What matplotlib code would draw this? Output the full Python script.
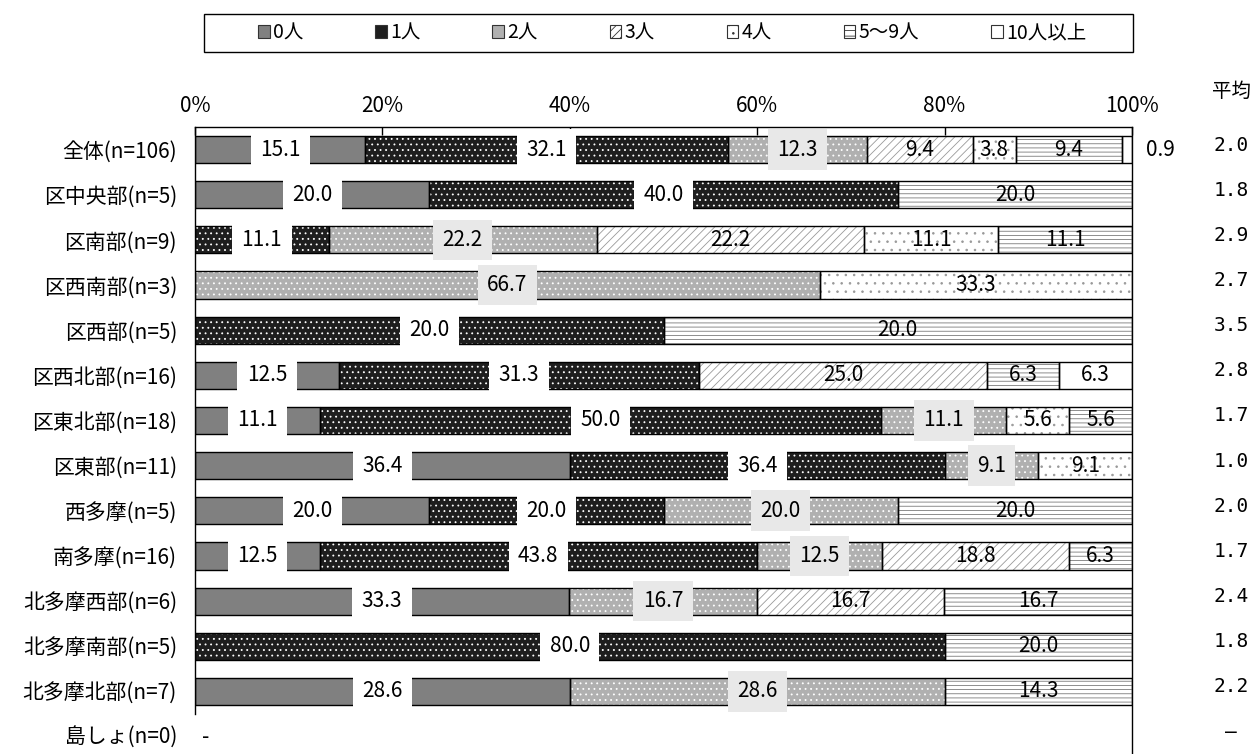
import matplotlib.pyplot as plt
from matplotlib.patches import Patch, Rectangle

plt.rcParams['font.family'] = ['Noto Sans CJK JP', 'DejaVu Sans']
plt.rcParams['hatch.linewidth'] = 0.6
NUM_FONT = ['Liberation Sans Narrow', 'Noto Sans CJK JP']

rows = ['全体(n=106)', '区中央部(n=5)', '区南部(n=9)', '区西南部(n=3)', '区西部(n=5)',
        '区西北部(n=16)', '区東北部(n=18)', '区東部(n=11)', '西多摩(n=5)', '南多摩(n=16)',
        '北多摩西部(n=6)', '北多摩南部(n=5)', '北多摩北部(n=7)']
cats = ['0人', '1人', '2人', '3人', '4人', '5〜9人', '10人以上']

# percentages per category (0 = none in that group)
v0 = [15.1, 20.0, 0, 0, 0, 12.5, 11.1, 36.4, 20.0, 12.5, 33.3, 0, 28.6]
v1 = [32.1, 40.0, 11.1, 0, 20.0, 31.3, 50.0, 36.4, 20.0, 43.8, 0, 80.0, 0]
v2 = [12.3, 0, 22.2, 66.7, 0, 0, 11.1, 9.1, 20.0, 12.5, 16.7, 0, 28.6]
v3 = [9.4, 0, 22.2, 0, 0, 25.0, 0, 0, 0, 18.8, 16.7, 0, 0]
v4 = [3.8, 0, 11.1, 33.3, 0, 0, 5.6, 9.1, 0, 0, 0, 0, 0]
v5 = [9.4, 20.0, 11.1, 0, 20.0, 6.3, 5.6, 0, 20.0, 6.3, 16.7, 20.0, 14.3]
v10 = [0.9, 0, 0, 0, 0, 6.3, 0, 0, 0, 0, 0, 0, 0]
avg = ['2.0', '1.8', '2.9', '2.7', '3.5', '2.8', '1.7', '1.0', '2.0', '1.7', '2.4', '1.8', '2.2']

series = [v0, v1, v2, v3, v4, v5, v10]
# face, hatch, hatch colour, label box colour
styles = [
    ('#808080', None, None, 'white'),
    ('#1e1e1e', '...', 'white', 'white'),
    ('#b0b0b0', '...', 'white', '#e8e8e8'),
    ('white', '////', '#999999', None),
    ('white', '..', '#999999', None),
    ('white', '----', '#7a7a7a', None),
    ('white', None, None, None),
]

fig = plt.figure(figsize=(12.57, 7.54), dpi=100)
ax = fig.add_axes([195 / 1257, 1 - 714 / 754, 937 / 1257, 587 / 754])

n = len(rows)
totals = [sum(s[i] for s in series) for i in range(n)]
lefts = [0.0] * n
h = 0.6

for vals, (fc, hatch, hc, boxc) in zip(series, styles):
    ys, ws, ls = [], [], []
    for i in range(n):
        if vals[i] > 0:
            ys.append(i)
            ws.append(vals[i] / totals[i] * 100)
            ls.append(lefts[i])
    ax.barh(ys, ws, left=ls, height=h, color=fc, edgecolor='none', linewidth=0, zorder=2)
    if hatch:
        ax.barh(ys, ws, left=ls, height=h, facecolor='none', edgecolor=hc,
                hatch=hatch, linewidth=0, zorder=3)
    ax.barh(ys, ws, left=ls, height=h, facecolor='none', edgecolor='black',
            linewidth=1.0, zorder=4)
    for y, w, l in zip(ys, ws, ls):
        txt = '%.1f' % vals[y]
        if w < 3:
            ax.text(103, y, txt, ha='center', va='center', fontsize=15,
                    family=NUM_FONT, clip_on=False)
            continue
        kw = {}
        if boxc:
            kw['bbox'] = dict(boxstyle='square,pad=0.45', fc=boxc, ec='none')
        ax.text(l + w / 2, y, txt, ha='center', va='center', fontsize=15,
                family=NUM_FONT, zorder=5, **kw)
    for i, w in zip(ys, ws):
        lefts[i] += w

ax.set_xlim(0, 100)
ax.set_ylim(n - 0.5, -0.5)
ax.xaxis.tick_top()
ax.set_xticks(range(0, 101, 20))
ax.set_xticklabels(['%d%%' % t for t in range(0, 101, 20)], fontsize=15, family=NUM_FONT)
ax.tick_params(axis='x', direction='in', length=6, width=1, pad=7)
ax.set_yticks(range(n))
ax.set_yticklabels(rows, fontsize=15)
ax.tick_params(axis='y', length=0, pad=13)
for s in ['bottom', 'right']:
    ax.spines[s].set_visible(False)
for s in ['top', 'left']:
    ax.spines[s].set_linewidth(1.0)
ax.plot([1, 1], [1, -0.07], transform=ax.transAxes, color='black', lw=1.0, clip_on=False)

# island row with no respondents
yax = ax.get_yaxis_transform()
ax.annotate('島しょ(n=0)', xy=(0, n), xycoords=yax, xytext=(-13, 0),
            textcoords='offset points', ha='right', va='center', fontsize=15,
            annotation_clip=False)
ax.text(0.008, n, '-', transform=yax, ha='left', va='center', fontsize=15, clip_on=False)

# averages column
ax.text(1.1057, -1.28, '平均', transform=yax, ha='center', va='center', fontsize=14, clip_on=False)
for i, a in enumerate(avg + ['–']):
    ax.text(1.1057, i - 0.1, a, transform=yax, ha='center', va='center', fontsize=14,
            family='DejaVu Sans Mono', clip_on=False)

# legend
legend_hatch = [None, None, None, '////', '..', '---', None]
handles = [Patch(facecolor=fc, edgecolor='#333333', hatch=lh, linewidth=0.8)
           for (fc, hatch, hc, boxc), lh in zip(styles, legend_hatch)]
fig.add_artist(Rectangle((204 / 1257, 1 - 52 / 754), 929 / 1257, 38 / 754,
                         transform=fig.transFigure, fill=False, ec='black', lw=1.0))
fig.legend(handles, cats, ncol=7, mode='expand', frameon=False, loc='center',
           bbox_to_anchor=(258 / 1257, 1 - 52 / 754, 828 / 1257, 38 / 754),
           fontsize=14, handlelength=0.6, handleheight=0.6, handletextpad=0.15,
           borderpad=0, borderaxespad=0)

fig.savefig('out.png', dpi=100)
